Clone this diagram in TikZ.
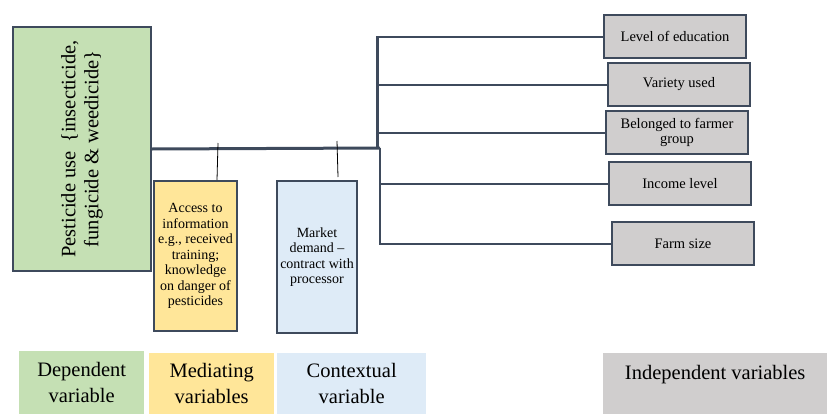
\documentclass[tikz,border=0pt]{standalone}
\usepackage{fontspec}
\setmainfont{Liberation Serif}
\usepackage{tikz}
\usetikzlibrary{positioning, calc}

\definecolor{depgreen}{HTML}{C5E0B4}
\definecolor{medyellow}{HTML}{FFE699}
\definecolor{ctxblue}{HTML}{DEEBF7}
\definecolor{indgrey}{HTML}{D0CECE}
\definecolor{edgeblue}{HTML}{3E4A5C}

\begin{document}
\begin{tikzpicture}[
    x=1pt, y=-1pt,
    box/.style={draw=edgeblue, line width=2pt, anchor=north west, align=center, inner sep=1pt},
    depbox/.style={box, fill=depgreen, minimum width=138pt, minimum height=244pt},
    varbox/.style={box, font=\rmfamily\fontsize{14}{15.5}\selectfont},
    indbox/.style={box, fill=indgrey, minimum width=142pt, minimum height=43pt,
                   font=\rmfamily\fontsize{14.5}{15}\selectfont},
    key/.style={anchor=north west, align=center, inner sep=0pt,
                font=\rmfamily\fontsize{20.5}{26}\selectfont},
    trunk/.style={edgeblue, line width=3pt},
    branch/.style={edgeblue, line width=2pt},
    tick/.style={black, line width=0.8pt},
]
\useasboundingbox (0,0) rectangle (827,415);

% --- Dependent variable ---
\node[depbox] (dep) at (12,26) {};
\node[rotate=90, align=center, font=\rmfamily\fontsize{20.5}{23}\selectfont] (deptext) at (dep.center)
    {Pesticide use \,\{insecticide,\\fungicide \& weedicide\}};

% --- Mediating and contextual ---
\node[varbox, fill=medyellow, minimum width=83pt, minimum height=150pt] (med) at (153,180)
    {Access to\\information\\e.g., received\\training;\\knowledge\\on danger of\\pesticides};
\node[varbox, fill=ctxblue, minimum width=80pt, minimum height=152pt] (ctx) at (276,180)
    {Market\\demand --\\contract with\\processor};

% --- Independent variables ---
\node[indbox] (edu) at (603,14) {Level of education};
\node[indbox] (var) at (607,62) {Variety used};
\node[indbox] (grp) at (605,110) {Belonged to farmer\\group};
\node[indbox] (inc) at (608,161) {Income level};
\node[indbox] (farm) at (611,221) {Farm size};

% --- Connectors ---
\coordinate (jnup) at (377,148);
\coordinate (jnlow) at (380,148);
\draw[trunk] (dep.east) -- (jnlow);
\draw[trunk] (jnup) -- (jnup |- edu.west);
\draw[branch] (jnup) |- (edu.west);
\draw[branch] (jnup) |- (var.west);
\draw[branch] (jnup) |- (grp.west);
\draw[branch] (jnlow) |- (inc.west);
\draw[branch] (jnlow) |- (farm.west);

% --- Ticks to mediating / contextual ---
\coordinate (medtick) at (218,143);
\draw[tick] (medtick) -- ([xshift=21.5pt]med.north);
\coordinate (ctxtick) at (337,141);
\draw[tick] (ctxtick) -- ([xshift=21pt,yshift=3pt]ctx.north);

% --- Legend ---
\node[key, fill=depgreen, minimum width=125pt, minimum height=63pt] (depkey) at (19,351)
    {Dependent\\variable};
\node[key, fill=medyellow, minimum width=125pt, minimum height=61pt] (medkey) at (149,353)
    {Mediating\\variables};
\node[key, fill=ctxblue, minimum width=149pt, minimum height=61pt] (ctxkey) at (277,353)
    {Contextual\\variable};
\node[key, fill=indgrey, minimum width=224pt, minimum height=61pt] (indkey) at (603,353) {};
\node[key, anchor=north] (indtext) at ([yshift=-12pt]indkey.north) {Independent variables};

\end{tikzpicture}
\end{document}
